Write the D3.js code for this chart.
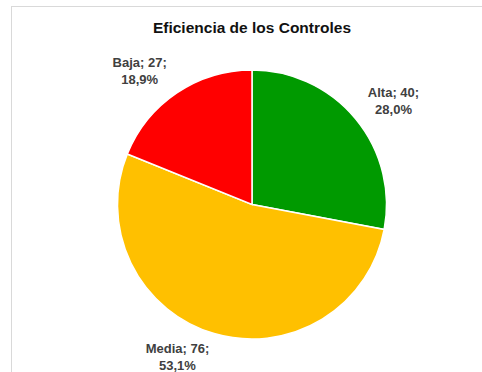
<!DOCTYPE html>
<html>
<head>
<meta charset="utf-8">
<script src="https://cdn.jsdelivr.net/npm/d3@7"></script>
<style>
  body { margin: 0; background: #fff; }
  text { font-family: "Century Gothic", "Liberation Sans", Arial, sans-serif; font-weight: bold; }
</style>
</head>
<body>
<svg width="482" height="372"></svg>
<script>
// Data
var categories = ["Alta", "Media", "Baja"];
var values = [40, 76, 27];
var percents = ["28,0%", "53,1%", "18,9%"];
var colors = ["#009a00", "#ffc000", "#ff0000"];
var title = "Eficiencia de los Controles";

var svg = d3.select("svg"),
  width = +svg.attr("width"),
  height = +svg.attr("height");

// chart area frame (only top and left visible)
svg.append("rect")
  .attr("x", 11.5).attr("y", 6.5)
  .attr("width", 600).attr("height", 600)
  .attr("fill", "none")
  .attr("stroke", "#d9d9d9");

svg.append("text")
  .attr("x", 252).attr("y", 33)
  .attr("text-anchor", "middle")
  .attr("font-size", 15.5)
  .attr("fill", "#111")
  .text(title);

var cx = 252, cy = 204.5, r = 134.5;

var pie = d3.pie().sort(null).value(function (d) { return d; });
var arcs = pie(values);

var arc = d3.arc().innerRadius(0).outerRadius(r);
var labelArc = d3.arc().innerRadius(176).outerRadius(176);

// small nudges so labels sit where Excel put them
var nudge = [[6, 8], [-25, -17], [-14, 12]];

var g = svg.append("g").attr("transform", "translate(" + cx + "," + cy + ")");

g.selectAll("path")
  .data(arcs)
  .enter()
  .append("path")
  .attr("d", arc)
  .attr("fill", function (d, i) { return colors[i]; })
  .attr("stroke", "#fff")
  .attr("stroke-width", 1.5);

var labels = g.selectAll("text.lbl")
  .data(arcs)
  .enter()
  .append("text")
  .attr("class", "lbl")
  .attr("text-anchor", "middle")
  .attr("font-size", 13)
  .attr("fill", "#404040")
  .attr("transform", function (d, i) {
    var c = labelArc.centroid(d);
    return "translate(" + (c[0] + nudge[i][0]) + "," + (c[1] + nudge[i][1]) + ")";
  });

labels.append("tspan")
  .attr("x", 0).attr("y", -3.5)
  .text(function (d, i) { return categories[i] + "; " + values[i] + ";"; });

labels.append("tspan")
  .attr("x", 0).attr("y", 13.5)
  .text(function (d, i) { return percents[i]; });
</script>
</body>
</html>
